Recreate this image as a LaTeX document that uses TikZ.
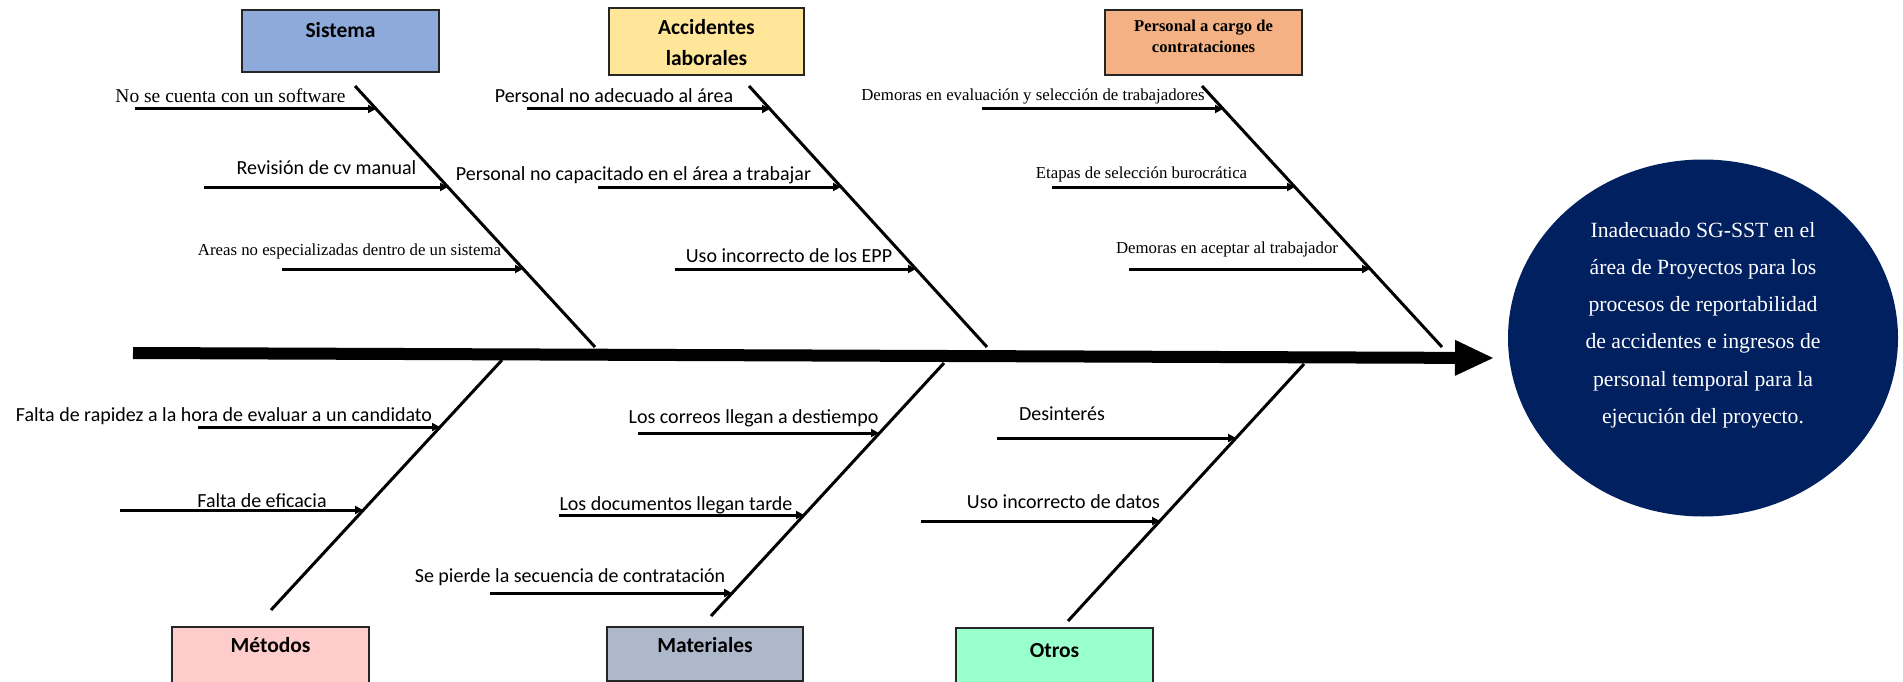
\documentclass[tikz,border=0pt]{standalone}
\usepackage{fontspec}
\setmainfont{Liberation Serif}
\newfontfamily\calibri{Carlito}
\usetikzlibrary{shapes, arrows.meta}
\definecolor{sisblue}{HTML}{8EAADB}
\definecolor{accyellow}{HTML}{FFE699}
\definecolor{perorange}{HTML}{F4B183}
\definecolor{metpink}{HTML}{FFCCCC}
\definecolor{matgray}{HTML}{ADB9CA}
\definecolor{otrgreen}{HTML}{99FFCC}
\definecolor{goalnavy}{HTML}{002060}

\begin{document}
\begin{tikzpicture}[
    x=1pt, y=-1pt,
    bone/.style={line width=3pt},
    cause/.style={-{Triangle[length=8pt, width=8pt]}, line width=3pt},
    spine/.style={-{Triangle[length=38pt, width=36pt, line width=0pt]}, line width=12pt},
    box/.style={draw=black!85, line width=2pt, minimum width=197pt, inner sep=0pt},
    ttl/.style={font=\calibri\bfseries\fontsize{21.5}{31}\selectfont, inner sep=0pt, align=center},
    lbl/.style={font=\calibri\fontsize{20}{24}\selectfont, inner sep=0pt, anchor=base},
    slbl/.style={font=\fontsize{16.8}{20}\selectfont, inner sep=0pt, anchor=base},
    goaltxt/.style={font=\fontsize{21.7}{37.2}\selectfont, text=white, inner sep=0pt, align=center}
  ]
  \useasboundingbox (0,0) rectangle (1903,682);

  % category boxes
  \node[box, fill=sisblue, minimum height=62pt] (sis) at (340.5,41) {};
  \node[box, fill=accyellow, minimum width=195pt, minimum height=67pt] (acc) at (706.5,41.5) {};
  \node[box, fill=perorange, minimum height=65pt] (per) at (1203.5,42.5) {};
  \node[box, fill=metpink, minimum height=56pt] (met) at (270.5,655) {};
  \node[box, fill=matgray, minimum width=196pt, minimum height=54pt] (mat) at (705,654) {};
  \node[box, fill=otrgreen, minimum height=55pt] (otr) at (1054.5,655.5) {};

  \node[ttl, anchor=base] (sis-t) at (340.5,38) {Sistema};
  \node[ttl, anchor=north] (acc-t) at (706.5,19) {Accidentes\\laborales};
  \node[ttl, anchor=north, font=\bfseries\fontsize{16.6}{21}\selectfont] (per-t) at (1203.5,20) {Personal a cargo de\\contrataciones};
  \node[ttl, anchor=base] (met-t) at (270.5,652) {Métodos};
  \node[ttl, anchor=base] (mat-t) at (705,652) {Materiales};
  \node[ttl, anchor=base] (otr-t) at (1054.5,657) {Otros};

  % bones
  \coordinate (sis-a) at (355,86);   \coordinate (sis-b) at (595,347);
  \coordinate (acc-a) at (749,86);   \coordinate (acc-b) at (987,347);
  \coordinate (per-a) at (1202,86);  \coordinate (per-b) at (1442,347);
  \coordinate (met-a) at (502,360);  \coordinate (met-b) at (271,610);
  \coordinate (mat-a) at (944,363);  \coordinate (mat-b) at (711,616);
  \coordinate (otr-a) at (1304,364); \coordinate (otr-b) at (1068,621);
  \draw[bone] (sis-a) -- (sis-b);
  \draw[bone] (acc-a) -- (acc-b);
  \draw[bone] (per-a) -- (per-b);
  \draw[bone] (met-a) -- (met-b);
  \draw[bone] (mat-a) -- (mat-b);
  \draw[bone] (otr-a) -- (otr-b);

  % causes
  \coordinate (s1a) at (135,109);  \coordinate (s1b) at (376,109);
  \coordinate (s2a) at (204,187);  \coordinate (s2b) at (448,187);
  \coordinate (s3a) at (282,269);  \coordinate (s3b) at (523,269);
  \coordinate (a1a) at (527,109);  \coordinate (a1b) at (770,109);
  \coordinate (a2a) at (598,187);  \coordinate (a2b) at (841,187);
  \coordinate (a3a) at (675,269);  \coordinate (a3b) at (916,269);
  \coordinate (p1a) at (982,109);  \coordinate (p1b) at (1223,109);
  \coordinate (p2a) at (1052,187); \coordinate (p2b) at (1295,187);
  \coordinate (p3a) at (1129,269); \coordinate (p3b) at (1370,269);
  \coordinate (m1a) at (198,427);  \coordinate (m1b) at (440,427);
  \coordinate (m2a) at (120,510);  \coordinate (m2b) at (363,510);
  \coordinate (t1a) at (638,433);  \coordinate (t1b) at (879,433);
  \coordinate (t2a) at (559,515);  \coordinate (t2b) at (804,515);
  \coordinate (t3a) at (490,593);  \coordinate (t3b) at (732,593);
  \coordinate (o1a) at (997,438);  \coordinate (o1b) at (1236,438);
  \coordinate (o2a) at (921,521);  \coordinate (o2b) at (1160,521);
  \draw[cause] (s1a) -- (s1b);
  \draw[cause] (s2a) -- (s2b);
  \draw[cause] (s3a) -- (s3b);
  \draw[cause] (a1a) -- (a1b);
  \draw[cause] (a2a) -- (a2b);
  \draw[cause] (a3a) -- (a3b);
  \draw[cause] (p1a) -- (p1b);
  \draw[cause] (p2a) -- (p2b);
  \draw[cause] (p3a) -- (p3b);
  \draw[cause] (m1a) -- (m1b);
  \draw[cause] (m2a) -- (m2b);
  \draw[cause] (t1a) -- (t1b);
  \draw[cause] (t2a) -- (t2b);
  \draw[cause] (t3a) -- (t3b);
  \draw[cause] (o1a) -- (o1b);
  \draw[cause] (o2a) -- (o2b);

  \node[slbl, font=\fontsize{19.5}{23}\selectfont] (s1) at (230.5,103) {No se cuenta con un software};
  \node[lbl] (s2) at (326.5,175) {Revisión de cv manual};
  \node[slbl] (s3) at (349.5,255) {Areas no especializadas dentro de un sistema};
  \node[lbl] (a1) at (614,103) {Personal no adecuado al área};
  \node[lbl] (a2) at (633.5,180) {Personal no capacitado en el área a trabajar};
  \node[lbl] (a3) at (789,262) {Uso incorrecto de los EPP};
  \node[slbl] (p1) at (1033,101) {Demoras en evaluación y selección de trabajadores};
  \node[slbl] (p2) at (1141.5,178) {Etapas de selección burocrática};
  \node[slbl] (p3) at (1227,253) {Demoras en aceptar al trabajador};
  \node[lbl] (m1) at (224,421) {Falta de rapidez a la hora de evaluar a un candidato};
  \node[lbl] (m2) at (262,507) {Falta de eficacia};
  \node[lbl] (t1) at (753.5,423) {Los correos llegan a destiempo};
  \node[lbl] (t2) at (676,510) {Los documentos llegan tarde};
  \node[lbl] (t3) at (570,582) {Se pierde la secuencia de contratación};
  \node[lbl] (o1) at (1062,420) {Desinterés};
  \node[lbl] (o2) at (1063.5,508) {Uso incorrecto de datos};

  % spine and effect
  \coordinate (tail) at (133,353);
  \coordinate (head) at (1493,358);
  \draw[spine] (tail) -- (head);

  \node[ellipse, fill=goalnavy, minimum width=390pt, minimum height=357pt, inner sep=0pt] (goal) at (1703,338) {};
  \node[goaltxt, anchor=north] (goal-t) at (1703,222) {Inadecuado SG-SST en el\\área de Proyectos para los\\procesos de reportabilidad\\de accidentes e ingresos de\\personal temporal para la\\ejecución del proyecto.};
\end{tikzpicture}
\end{document}
